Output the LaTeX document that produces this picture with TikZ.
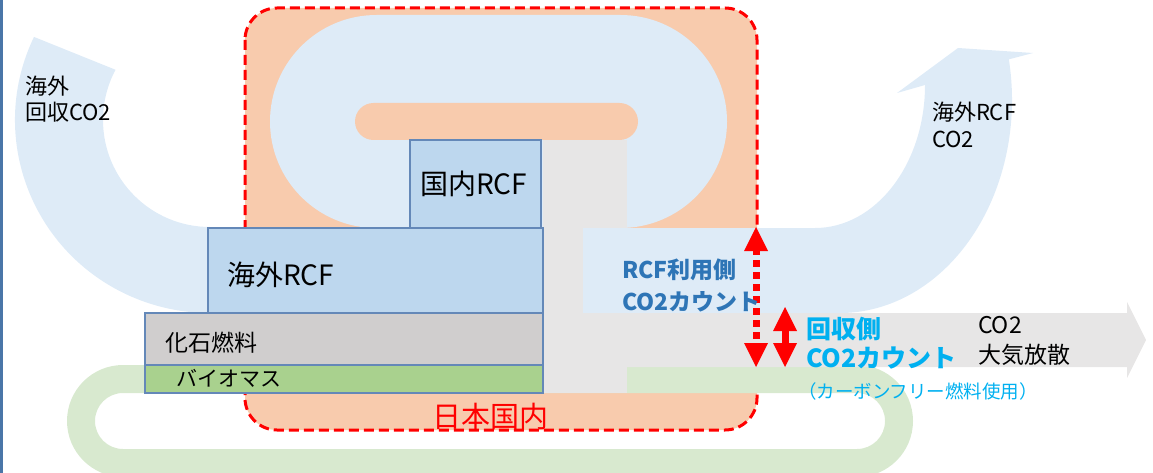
\documentclass[tikz,border=0pt]{standalone}
\usepackage{fontspec}
\setmainfont{Noto Sans CJK JP}
\definecolor{flowblue}{HTML}{DEEBF7}
\definecolor{peach}{HTML}{F8CBAD}
\definecolor{flowgrey}{HTML}{E7E6E6}
\definecolor{flowgreen}{HTML}{D8E9CF}
\definecolor{rcffill}{HTML}{BDD7EE}
\definecolor{rcfline}{HTML}{6488B8}
\definecolor{fossil}{HTML}{D0CECE}
\definecolor{bio}{HTML}{A9D18E}
\definecolor{usecol}{HTML}{2E75B6}
\definecolor{reccol}{HTML}{00B0F0}
\definecolor{edgecol}{HTML}{4A76A8}
\begin{document}
\begin{tikzpicture}[x=1pt,y=-1pt,
  rcfbox/.style={draw=rcfline, line width=1.4pt, anchor=north west, inner sep=0pt, outer sep=0pt},
  lbl/.style={anchor=base west, inner sep=0pt, outer sep=0pt},
  fsA/.style={font=\fontsize{22pt}{26pt}\selectfont},
  fsBox/.style={font=\fontsize{28pt}{32pt}\selectfont},
  fsUse/.style={font=\fontsize{23pt}{28pt}\selectfont\bfseries, text=usecol},
  fsRec/.style={font=\fontsize{25pt}{28pt}\selectfont\bfseries, text=reccol},
  redshaft/.style={draw=red, line width=7pt, shorten <=21pt, shorten >=21pt},
  redhead/.style={fill=red}
]
\useasboundingbox (0,0) rectangle (1153,473);
\draw[edgecol, line width=3pt] (1.5,0) -- (1.5,473);
% Japan domestic box
\draw[fill=peach, draw=red, line width=3pt, dash pattern=on 10pt off 5pt, rounded corners=32pt] (245,8) rectangle (757,430);
% top loop
\fill[flowblue, rounded corners=106.5pt] (270,15) rectangle (727,228);
\fill[peach, rounded corners=18.5pt] (355,103) rectangle (638,140);
% left overseas recovered CO2 flow
\fill[flowblue] ([shift={(210,120)}]154.5:195pt and 193pt) arc[start angle=154.5, end angle=270, x radius=195pt, y radius=193pt] -- (216,313) -- (216,227) -- (210,227) arc[start angle=270, end angle=152, radius=107pt] -- cycle;
% green biomass loop
\fill[flowgreen, even odd rule] [rounded corners=56pt] (67,365) rectangle (913,477) [rounded corners=28pt] (95,393) rectangle (885,449);
% grey vertical band
\fill[flowgrey] (543,140) rectangle (627,393);
% right overseas RCF CO2 flow
\fill[flowblue] (583,228) -- (815,228) arc[start angle=270, end angle=360, x radius=110pt, y radius=143pt] -- (897,93) -- (958,48) -- (1033,53) -- ([shift={(840,100)}]11:172pt and 213pt) arc[start angle=11, end angle=-90, x radius=172pt, y radius=213pt] -- (583,313) -- cycle;
% grey atmospheric release arrow
\fill[flowgrey] (543,313) -- (1127,313) -- (1127,302) -- (1146,340) -- (1127,378) -- (1127,367) -- (543,367) -- cycle;
% boxes
\node[rcfbox, fill=rcffill, minimum width=131pt, minimum height=88pt] (dom) at (410,140) {};
\node[rcfbox, fill=rcffill, minimum width=335pt, minimum height=85pt] (ov) at (208,228) {};
\node[rcfbox, fill=fossil, minimum width=398pt, minimum height=52pt] (fos) at (145,313) {};
\node[rcfbox, fill=bio, minimum width=398pt, minimum height=28pt] (bio) at (145,365) {};
% red arrows
\coordinate (ua) at (756,227);
\coordinate (ub) at (756,367);
\draw[redshaft, dash pattern=on 7pt off 5pt] (ua) -- (ub);
\fill[redhead] (ua) -- ++(12,24) -- ++(-24,0) -- cycle;
\fill[redhead] (ub) -- ++(12,-24) -- ++(-24,0) -- cycle;
\coordinate (ra) at (785,307);
\coordinate (rb) at (785,367);
\draw[redshaft] (ra) -- (rb);
\fill[redhead] (ra) -- ++(12,24) -- ++(-24,0) -- cycle;
\fill[redhead] (rb) -- ++(12,-24) -- ++(-24,0) -- cycle;
% labels
\node[lbl, fsA] (t1) at (25,95) {海外};
\node[lbl, fsA] (t2) at (25,121) {回収CO2};
\node[lbl, fsA] (t3) at (932,121) {海外RCF};
\node[lbl, fsA] (t4) at (932,148) {CO2};
\node[lbl, fsBox] (t5) at (420,195) {国内RCF};
\node[lbl, fsBox] (t6) at (227,285) {海外RCF};
\node[lbl, font=\fontsize{23pt}{26pt}\selectfont] (t7) at (165,351) {化石燃料};
\node[lbl, font=\fontsize{21pt}{24pt}\selectfont] (t8) at (176,386) {バイオマス};
\node[lbl, font=\fontsize{29pt}{32pt}\selectfont, text=red] (t9) at (432,427) {日本国内};
\node[lbl, fsUse] (t10) at (622,278) {RCF利用側};
\node[lbl, fsUse] (t11) at (622,310) {CO2カウント};
\node[lbl, fsRec] (t12) at (806,338) {回収側};
\node[lbl, fsRec] (t13) at (806,367) {CO2カウント};
\node[lbl, font=\fontsize{18.5pt}{20pt}\selectfont, text=reccol] (t14) at (798,398) {（カーボンフリー燃料使用）};
\node[lbl, font=\fontsize{23pt}{26pt}\selectfont] (t15) at (978,333) {CO2};
\node[lbl, font=\fontsize{23pt}{26pt}\selectfont] (t16) at (978,363) {大気放散};
\end{tikzpicture}
\end{document}
